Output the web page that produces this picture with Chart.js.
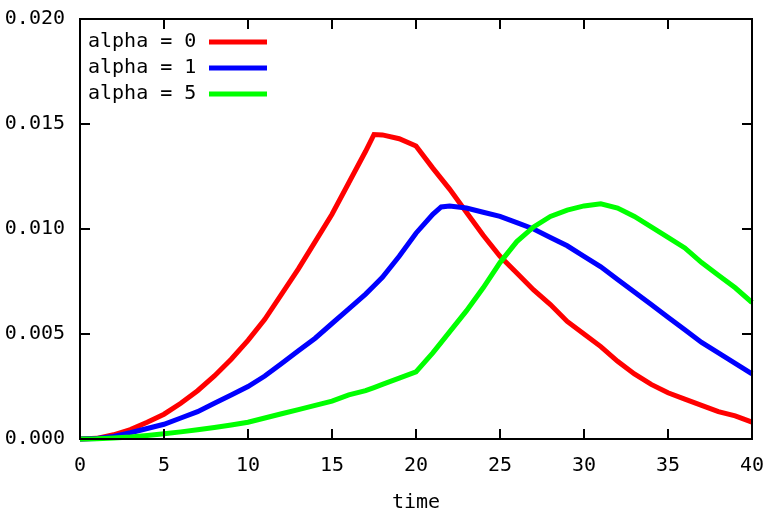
<!DOCTYPE html>
<html>
<head>
<meta charset="utf-8">
<script src="https://cdn.jsdelivr.net/npm/chart.js@4/dist/chart.umd.min.js"></script>
<style>
  body { margin: 0; background: #fff; }
  canvas { display: block; }
</style>
</head>
<body>
<canvas id="chart" width="774" height="515"></canvas>
<script>
// time axis samples (17.5 and 21.5 added at the kinks)
const time = [0, 1, 2, 3, 4, 5, 6, 7, 8, 9, 10, 11, 12, 13, 14, 15, 16, 17, 17.5, 18, 19, 20, 21, 21.5,
  22, 23, 24, 25, 26, 27, 28, 29, 30, 31, 32, 33, 34, 35, 36, 37, 38, 39, 40];

const alpha0 = [0, 0.00003, 0.0002, 0.00045, 0.0008, 0.00118, 0.0017, 0.0023, 0.003, 0.0038, 0.0047,
  0.0057, 0.0069, 0.0081, 0.0094, 0.0107, 0.0122, 0.0137, 0.0145, 0.01448, 0.0143, 0.01395, 0.0129, 0.0124,
  0.0119, 0.0108, 0.0097, 0.0087, 0.0079, 0.0071, 0.0064, 0.0056, 0.005, 0.0044, 0.0037, 0.0031, 0.0026,
  0.0022, 0.0019, 0.0016, 0.0013, 0.0011, 0.0008];

const alpha1 = [0, 0.00002, 0.00012, 0.0003, 0.0005, 0.0007, 0.001, 0.0013, 0.0017, 0.0021, 0.0025,
  0.003, 0.0036, 0.0042, 0.0048, 0.0055, 0.0062, 0.0069, 0.0073, 0.0077, 0.0087, 0.0098, 0.0107, 0.01105,
  0.0111, 0.011, 0.0108, 0.0106, 0.0103, 0.01, 0.0096, 0.0092, 0.0087, 0.0082, 0.0076, 0.007, 0.0064,
  0.0058, 0.0052, 0.0046, 0.0041, 0.0036, 0.0031];

const alpha5 = [0, 0.00001, 0.00005, 0.0001, 0.00017, 0.00025, 0.00034, 0.00044, 0.00055, 0.00067, 0.0008,
  0.001, 0.0012, 0.0014, 0.0016, 0.0018, 0.0021, 0.0023, 0.00245, 0.0026, 0.0029, 0.0032, 0.0041, 0.0046,
  0.0051, 0.0061, 0.0072, 0.0084, 0.0094, 0.0101, 0.0106, 0.0109, 0.0111, 0.0112, 0.011, 0.0106, 0.0101,
  0.0096, 0.0091, 0.0084, 0.0078, 0.0072, 0.0065];

const seriesLabels = ['alpha = 0', 'alpha = 1', 'alpha = 5'];
const seriesColors = ['#ff0000', '#0000ff', '#00ff00'];

const FONT = '"DejaVu Sans Mono", monospace';

function points(values) {
  return time.map((t, i) => ({ x: t, y: values[i] }));
}

// drop the label overhang so the plot box sits where the padding says
function noOverhang(s) {
  s.paddingTop = 0;
  s.paddingBottom = 0;
  s.paddingLeft = 0;
  s.paddingRight = 0;
}

// gnuplot style frame: box, inward ticks on all four sides, legend inside
const framePlugin = {
  id: 'frame',
  afterDraw(chart) {
    const ctx = chart.ctx;
    const a = chart.chartArea;
    const xs = chart.scales.x, ys = chart.scales.y;
    const tl = 10;
    ctx.save();
    ctx.strokeStyle = '#000';
    ctx.lineWidth = 2;
    ctx.strokeRect(a.left, a.top, a.right - a.left, a.bottom - a.top);
    ctx.beginPath();
    xs.ticks.forEach(t => {
      const px = Math.round(xs.getPixelForValue(t.value));
      ctx.moveTo(px, a.bottom); ctx.lineTo(px, a.bottom - tl);
      ctx.moveTo(px, a.top); ctx.lineTo(px, a.top + tl);
    });
    ys.ticks.forEach(t => {
      const py = Math.round(ys.getPixelForValue(t.value));
      ctx.moveTo(a.left, py); ctx.lineTo(a.left + tl, py);
      ctx.moveTo(a.right, py); ctx.lineTo(a.right - tl, py);
    });
    ctx.stroke();

    // legend
    ctx.font = '20px ' + FONT;
    ctx.textBaseline = 'middle';
    ctx.textAlign = 'left';
    chart.data.datasets.forEach((ds, i) => {
      const y = 42 + i * 26;
      ctx.fillStyle = '#000';
      ctx.fillText(ds.label, a.left + 8, y);
      ctx.strokeStyle = ds.borderColor;
      ctx.lineWidth = 5;
      ctx.beginPath();
      ctx.moveTo(209, y);
      ctx.lineTo(267, y);
      ctx.stroke();
    });
    ctx.restore();
  }
};

new Chart(document.getElementById('chart').getContext('2d'), {
  type: 'line',
  data: {
    datasets: [alpha0, alpha1, alpha5].map((vals, i) => ({
      label: seriesLabels[i],
      data: points(vals),
      borderColor: seriesColors[i],
      borderWidth: 5,
      pointRadius: 0,
      fill: false,
      tension: 0,
      clip: false,
      order: 3 - i
    }))
  },
  options: {
    responsive: false,
    animation: false,
    devicePixelRatio: 1,
    layout: { autoPadding: false, padding: { top: 19, right: 22, left: 0, bottom: 0 } },
    plugins: {
      legend: { display: false },
      tooltip: { enabled: false }
    },
    scales: {
      x: {
        type: 'linear',
        min: 0,
        max: 40,
        afterFit: s => { s.height = 76; noOverhang(s); },
        grid: { display: false, drawTicks: false },
        border: { display: false },
        ticks: { stepSize: 5, color: '#000', padding: 15, font: { family: FONT, size: 20 } },
        title: {
          display: true,
          text: 'time',
          color: '#000',
          padding: { top: 4, bottom: 0 },
          font: { family: FONT, size: 20 }
        }
      },
      y: {
        min: 0,
        max: 0.02,
        afterFit: s => { s.width = 80; noOverhang(s); },
        grid: { display: false, drawTicks: false },
        border: { display: false },
        ticks: {
          stepSize: 0.005,
          color: '#000',
          padding: 15,
          font: { family: FONT, size: 20 },
          callback: v => v.toFixed(3)
        }
      }
    }
  },
  plugins: [framePlugin]
});
</script>
</body>
</html>
